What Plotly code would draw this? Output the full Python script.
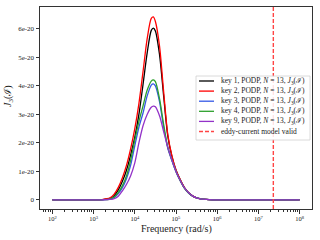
import plotly.graph_objects as go

log_freq = [2.0, 2.5, 3.0, 3.2, 3.4, 3.5, 3.6, 3.7, 3.8, 3.9, 4.0, 4.1, 4.2, 4.3,
            4.4, 4.45, 4.5, 4.6, 4.7, 4.8, 4.9, 5.0, 5.1, 5.2, 5.3, 5.4, 5.5, 5.6, 5.8,
            6.0, 6.5, 7.0, 7.5, 8.0]

# J3(I) in units of 1e-20
key1 = [0, 0, 0, 0.01, 0.05, 0.15, 0.35, 0.65, 1.05, 1.58, 2.2, 3.0, 4.05, 5.15,
        5.95, 6.03, 5.93, 5.1, 3.65, 2.25, 1.53, 1.04, 0.71, 0.44, 0.26, 0.14, 0.07, 0.035, 0.01,
        0, 0, 0, 0, 0]
key2 = [0, 0, 0, 0.01, 0.07, 0.2, 0.44, 0.78, 1.22, 1.8, 2.5, 3.38, 4.5, 5.65,
        6.37, 6.42, 6.26, 5.4, 3.8, 2.3, 1.55, 1.05, 0.72, 0.44, 0.26, 0.14, 0.07, 0.035, 0.01,
        0, 0, 0, 0, 0]
key3 = [0, 0, 0, 0.004, 0.025, 0.08, 0.22, 0.43, 0.75, 1.22, 1.9, 2.55, 3.05, 3.65,
        4.03, 4.07, 4.0, 3.45, 2.55, 1.82, 1.38, 0.99, 0.68, 0.42, 0.25, 0.135, 0.07, 0.035, 0.01,
        0, 0, 0, 0, 0]
key4 = [0, 0, 0, 0.005, 0.03, 0.1, 0.26, 0.5, 0.85, 1.4, 2.1, 2.75, 3.3, 3.85,
        4.17, 4.21, 4.15, 3.55, 2.65, 1.85, 1.4, 1.0, 0.68, 0.42, 0.25, 0.135, 0.07, 0.035, 0.01,
        0, 0, 0, 0, 0]
key9 = [0, 0, 0, 0.003, 0.015, 0.04, 0.13, 0.32, 0.55, 0.85, 1.3, 2.0, 2.6, 3.0,
        3.25, 3.29, 3.27, 2.95, 2.4, 1.85, 1.4, 1.0, 0.69, 0.43, 0.26, 0.14, 0.07, 0.035, 0.01,
        0, 0, 0, 0, 0]

eddy_limit = 2.3e7

series_names = ["key 1", "key 2", "key 3", "key 4", "key 9"]
series_vals = [key1, key2, key3, key4, key9]
colors = ["black", "#ff0000", "#3558e6", "#2ca02c", "#9332c8"]
eddy_color = "#ff4444"

y_ticks = [0, 1e-20, 2e-20, 3e-20, 4e-20, 5e-20, 6e-20]
y_tick_text = ["0", "1e-20", "2e-20", "3e-20", "4e-20", "5e-20", "6e-20"]
x_ticks = [1e2, 1e3, 1e4, 1e5, 1e6, 1e7, 1e8]
x_tick_text = ["10<sup>%d</sup>" % k for k in range(2, 9)]

freq = [10 ** v for v in log_freq]
font_family = "Liberation Serif"

# plot area in pixels: x 40..312, y 7..209
def px(x):
    return (x - 40) / 272.0

def py(y):
    return (209 - y) / 202.0

fig = go.Figure()
labels = []
for name, vals, col in zip(series_names, series_vals, colors):
    lab = f"{name}, PODP, <i>N</i> = 13, <i>J</i><sub>3</sub>(ℐ)"
    labels.append((lab, col, "solid"))
    fig.add_trace(go.Scatter(
        x=freq, y=[v * 1e-20 for v in vals], mode="lines",
        line=dict(color=col, width=1.3, shape="spline", smoothing=0.8),
        name=lab, showlegend=False, hoverinfo="skip",
    ))
labels.append(("eddy-current model valid", eddy_color, "4px,2px"))

fig.add_vline(x=eddy_limit, line=dict(color=eddy_color, width=1.4, dash="4px,2px"))

# hand-built legend (matplotlib style, compact rows)
fig.add_shape(type="rect", xref="paper", yref="paper",
              x0=px(196), x1=px(310), y0=py(140), y1=py(76),
              fillcolor="rgba(255,255,255,0.85)", line=dict(color="#d0d0d0", width=0.8),
              layer="above")
for i, (lab, col, dash) in enumerate(labels):
    yy = 81 + i * 10.1
    fig.add_shape(type="line", xref="paper", yref="paper",
                  x0=px(199), x1=px(214), y0=py(yy), y1=py(yy),
                  line=dict(color=col, width=1.3, dash=dash), layer="above")
    fig.add_annotation(xref="paper", yref="paper", x=px(219), y=py(yy),
                       xanchor="left", yanchor="middle", showarrow=False,
                       text=lab, font=dict(size=7.5, family=font_family, color="#222"))

# axis titles
fig.add_annotation(xref="paper", yref="paper", x=0.5, y=py(228.5), xanchor="center",
                   yanchor="middle", showarrow=False, text="Frequency (rad/s)",
                   font=dict(size=10, family=font_family, color="#222"))
fig.add_annotation(xref="paper", yref="paper", x=px(9), y=py(96), xanchor="center",
                   yanchor="middle", showarrow=False, textangle=-90,
                   text="<i>J</i><sub>3</sub>(ℐ)",
                   font=dict(size=10, family=font_family, color="#222"))

minor_vals = [m * 10 ** d for d in range(1, 9) for m in range(2, 10)]

fig.update_layout(
    width=320, height=240,
    margin=dict(l=40, r=8, t=7, b=31),
    paper_bgcolor="white", plot_bgcolor="white",
    font=dict(family=font_family, color="#222", size=7),
    showlegend=False,
)
fig.update_xaxes(
    type="log", range=[1.7, 8.3],
    tickvals=x_ticks, ticktext=x_tick_text,
    ticks="outside", ticklen=3.5, tickwidth=0.8, tickcolor="#333",
    minor=dict(tickmode="array", tickvals=minor_vals, ticks="outside", ticklen=2,
               tickwidth=0.6, tickcolor="#333", showgrid=False),
    showline=True, linecolor="#333", linewidth=1, mirror=True,
    showgrid=False, zeroline=False,
    tickfont=dict(size=6.5),
)
fig.update_yaxes(
    range=[-0.32e-20, 6.77e-20],
    tickvals=y_ticks, ticktext=y_tick_text,
    ticks="outside", ticklen=3.5, tickwidth=0.8, tickcolor="#333",
    showline=True, linecolor="#333", linewidth=1, mirror=True,
    showgrid=False, zeroline=False,
    tickfont=dict(size=7),
)

# page body has a default 8px margin; remove it so the figure sits at the origin
fig.write_html("out.html", config={"displayModeBar": False},
               post_script="document.body.style.margin='0';")
